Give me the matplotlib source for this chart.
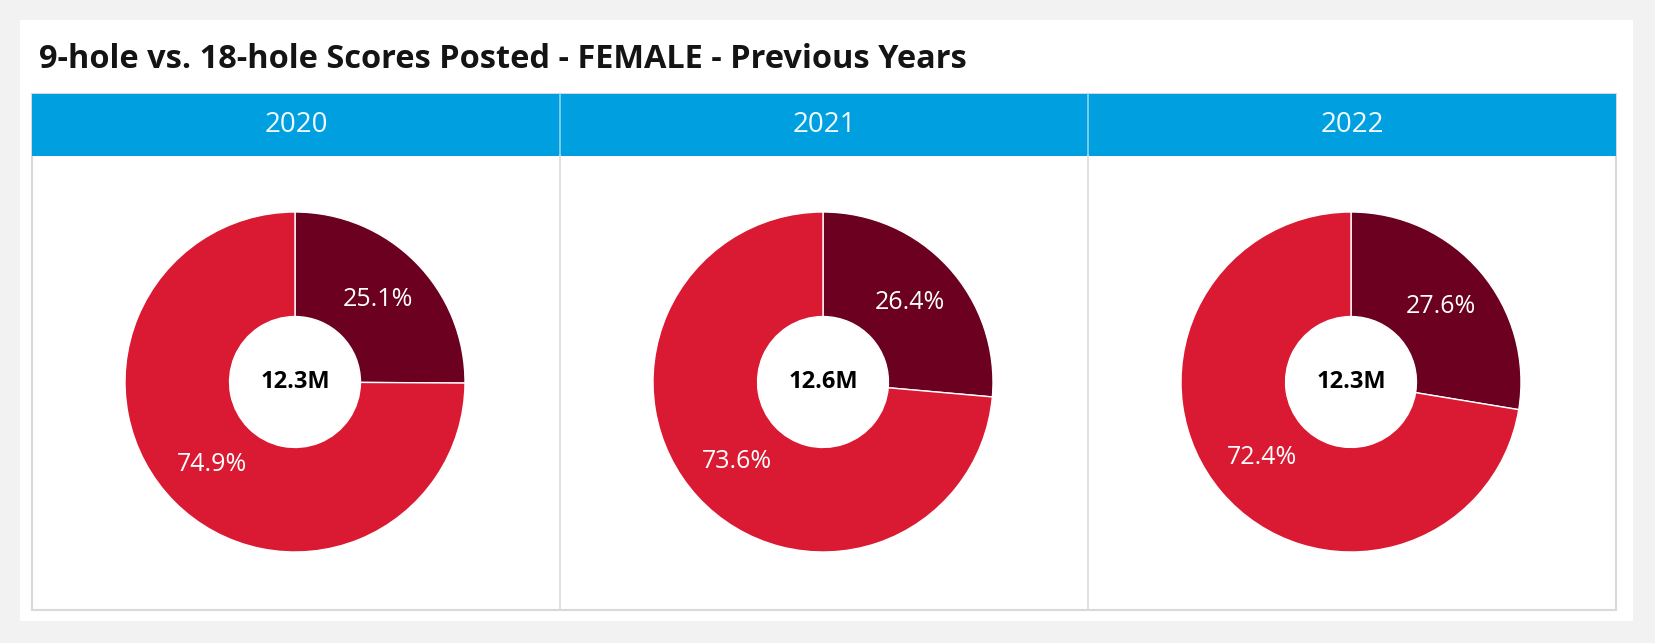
import matplotlib.pyplot as plt
from matplotlib.patches import Rectangle

plt.rcParams['font.family'] = ['Open Sans', 'DejaVu Sans']

# Data
years = ["2020", "2021", "2022"]
nine_hole = [25.1, 26.4, 27.6]
eighteen_hole = [74.9, 73.6, 72.4]
totals = ["12.3M", "12.6M", "12.3M"]

colors = ["#6b0020", "#d91a32"]
W, H = 1656, 643

fig = plt.figure(figsize=(W / 100, H / 100), dpi=100)
fig.patch.set_facecolor("#f2f2f2")

# background axes in pixel coordinates
bg = fig.add_axes([0, 0, 1, 1])
bg.set_xlim(0, W)
bg.set_ylim(H, 0)
bg.axis("off")

bg.add_patch(Rectangle((20, 20), 1613, 601, facecolor="white", edgecolor="none"))
bg.text(39, 60, "9-hole vs. 18-hole Scores Posted - FEMALE - Previous Years",
        fontsize=23.4, fontweight="bold", color="#141414", va="center", ha="left")

# panels
panel_l, panel_r, panel_t, panel_b = 32, 1616, 94, 610
head_b = 156
bg.add_patch(Rectangle((panel_l, panel_t), panel_r - panel_l, panel_b - panel_t,
                       facecolor="white", edgecolor="#d9d9d9", lw=1.5))
bg.add_patch(Rectangle((panel_l, panel_t), panel_r - panel_l, head_b - panel_t,
                       facecolor="#00a0e0", edgecolor="none"))
col_w = (panel_r - panel_l) / 3
for i, yr in enumerate(years):
    x0 = panel_l + i * col_w
    if i > 0:
        bg.plot([x0, x0], [panel_t, head_b], color="#8fd3f0", lw=1.2)
        bg.plot([x0, x0], [head_b, panel_b], color="#d9d9d9", lw=1.2)
    bg.text(x0 + col_w / 2, 125, yr, fontsize=20, color="#f0faff",
            ha="center", va="center")

# donuts
R = 170
cy = 382
for i in range(len(years)):
    cx = panel_l + i * col_w + col_w / 2 - 1
    ax = fig.add_axes([(cx - R) / W, (H - cy - R) / H, 2 * R / W, 2 * R / H])
    ax.pie([nine_hole[i], eighteen_hole[i]], colors=colors, startangle=90,
           counterclock=False, radius=1,
           wedgeprops=dict(width=0.615, edgecolor="white", linewidth=1),
           labels=[f"{nine_hole[i]}%", f"{eighteen_hole[i]}%"],
           labeldistance=0.69,
           textprops=dict(color="white", fontsize=18, ha="center", va="center"))
    ax.set_xlim(-1, 1)
    ax.set_ylim(-1, 1)
    ax.text(0, 0, totals[i], fontsize=17, fontweight="bold", color="black",
            ha="center", va="center")

fig.savefig("out.png", dpi=100, facecolor=fig.get_facecolor())
